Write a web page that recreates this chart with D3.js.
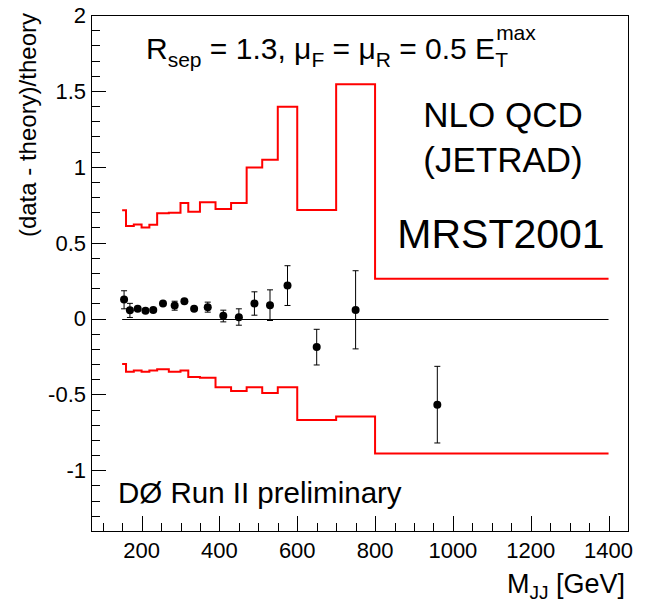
<!DOCTYPE html>
<html>
<head>
<meta charset="utf-8">
<script src="https://cdn.jsdelivr.net/npm/d3@7"></script>
<style>
  body { margin: 0; background: #fff; }
  text { font-family: "Liberation Sans", Arial, Helvetica, sans-serif; fill: #000; }
</style>
</head>
<body>
<svg id="chart" width="646" height="605"></svg>
<script>
"use strict";

// bin edges of the theory band (GeV)
var binEdges = [150, 160, 180, 200, 220, 240, 270, 300, 320, 350, 390, 430, 470, 510, 550, 600, 700, 800, 1400]
// upper / lower edge of the uncertainty band, one per bin
var upperBand = [0.713, 0.609, 0.62, 0.60, 0.618, 0.693, 0.697, 0.761, 0.704, 0.766, 0.721, 0.761, 0.995, 1.047, 1.395, 0.715, 1.543, 0.262]
var lowerBand = [-0.30, -0.35, -0.343, -0.35, -0.343, -0.334, -0.35, -0.343, -0.385, -0.39, -0.453, -0.477, -0.453, -0.49, -0.453, -0.669, -0.645, -0.889]

// data points
var massPoints = [155, 170, 190, 210, 230, 255, 285, 310, 335, 370, 410, 450, 490, 530, 575, 650, 750, 960]
var ratio = [0.125, 0.055, 0.064, 0.051, 0.057, 0.099, 0.086, 0.114, 0.064, 0.075, 0.018, 0.009, 0.099, 0.088, 0.218, -0.187, 0.057, -0.568]
var errHigh = [0.183, 0.10, 0.075, 0.06, 0.066, 0.11, 0.114, 0.122, 0.072, 0.108, 0.055, 0.064, 0.176, 0.189, 0.348, -0.071, 0.315, -0.315]
var errLow = [0.064, 0.007, 0.053, 0.042, 0.048, 0.088, 0.055, 0.106, 0.056, 0.042, -0.022, -0.044, 0.022, -0.013, 0.086, -0.306, -0.2, -0.82]

var xTickLabels = [200, 400, 600, 800, 1000, 1200, 1400]
var yTickLabels = [-1, -0.5, 0, 0.5, 1, 1.5, 2]

var frameLeft = 91, frameRight = 628, frameTop = 15, frameBottom = 531

var svg = d3.select("#chart")

var x = d3.scaleLinear().domain([70, 1450]).range([frameLeft, frameRight])
var y = d3.scaleLinear().domain([-1.4, 2]).range([frameBottom, frameTop])

// frame
svg.append("rect")
    .attr("x", frameLeft + 0.5).attr("y", frameTop + 0.5)
    .attr("width", frameRight - frameLeft).attr("height", frameBottom - frameTop)
    .attr("fill", "none").attr("stroke", "#000").attr("stroke-width", 1)

// y axis ticks
var yMinor = d3.range(-14, 21).map(function(d) { return d / 10 })
svg.append("g").selectAll("line")
    .data(yMinor)
    .enter().append("line")
    .attr("x1", frameLeft)
    .attr("x2", function(d) {
        return frameLeft + (Math.abs(d * 2 - Math.round(d * 2)) < 1e-6 ? 15 : 9)
    })
    .attr("y1", function(d) { return Math.round(y(d)) + 0.5 })
    .attr("y2", function(d) { return Math.round(y(d)) + 0.5 })
    .attr("stroke", "#000")

svg.append("g").selectAll("text")
    .data(yTickLabels)
    .enter().append("text")
    .attr("x", frameLeft - 5)
    .attr("y", function(d) { return y(d) })
    .attr("dy", "0.36em")
    .attr("text-anchor", "end")
    .attr("font-size", 22)
    .text(function(d) { return d })

// x axis ticks
var xMinor = d3.range(100, 1451, 50)
svg.append("g").selectAll("line")
    .data(xMinor)
    .enter().append("line")
    .attr("x1", function(d) { return Math.round(x(d)) + 0.5 })
    .attr("x2", function(d) { return Math.round(x(d)) + 0.5 })
    .attr("y1", frameBottom)
    .attr("y2", function(d) { return frameBottom - (d % 200 === 0 ? 15 : 8) })
    .attr("stroke", "#000")

svg.append("g").selectAll("text")
    .data(xTickLabels)
    .enter().append("text")
    .attr("x", function(d) { return x(d) })
    .attr("y", 558)
    .attr("text-anchor", "middle")
    .attr("font-size", 22)
    .text(function(d) { return d })

// axis titles
svg.append("text")
    .attr("transform", "translate(36," + 13 + ") rotate(-90)")
    .attr("text-anchor", "end")
    .attr("font-size", 24)
    .text("(data - theory)/theory")

var xt = svg.append("text")
    .attr("x", 625).attr("y", 593)
    .attr("text-anchor", "end")
    .attr("font-size", 27)
xt.append("tspan").text("M")
xt.append("tspan").attr("font-size", 19).attr("dy", 6).text("JJ")
xt.append("tspan").attr("dy", -6).text(" [GeV]")

// zero line
svg.append("line")
    .attr("x1", x(150)).attr("x2", x(1400))
    .attr("y1", Math.round(y(0)) + 0.5).attr("y2", Math.round(y(0)) + 0.5)
    .attr("stroke", "#000")

// theory band
var step = d3.line()
    .curve(d3.curveStepAfter)
    .x(function(d) { return x(d[0]) })
    .y(function(d) { return y(d[1]) })

function bandPoints(vals) {
    var p = vals.map(function(v, i) { return [binEdges[i], v] })
    p.push([binEdges[binEdges.length - 1], vals[vals.length - 1]])
    return p
}

;[upperBand, lowerBand].forEach(function(vals) {
    svg.append("path")
        .attr("d", step(bandPoints(vals)))
        .attr("fill", "none")
        .attr("stroke", "#ff0000")
        .attr("stroke-width", 2)
})

// data points with error bars
var pts = svg.append("g").selectAll("g")
    .data(massPoints)
    .enter().append("g")

pts.append("line")
    .attr("x1", function(d) { return x(d) })
    .attr("x2", function(d) { return x(d) })
    .attr("y1", function(d, i) { return y(errHigh[i]) })
    .attr("y2", function(d, i) { return y(errLow[i]) })
    .attr("stroke", "#000")

;[errHigh, errLow].forEach(function(arr) {
    pts.append("line")
        .attr("x1", function(d) { return x(d) - 3 })
        .attr("x2", function(d) { return x(d) + 3 })
        .attr("y1", function(d, i) { return y(arr[i]) })
        .attr("y2", function(d, i) { return y(arr[i]) })
        .attr("stroke", "#000")
})

pts.append("circle")
    .attr("cx", function(d) { return x(d) })
    .attr("cy", function(d, i) { return y(ratio[i]) })
    .attr("r", 4)
    .attr("fill", "#000")

// labels
var title = svg.append("text")
    .attr("x", 146).attr("y", 59)
    .attr("font-size", 30)
title.append("tspan").text("R")
title.append("tspan").attr("font-size", 21).attr("dy", 8).text("sep")
title.append("tspan").attr("dy", -8).text(" = 1.3, \u03bc")
title.append("tspan").attr("font-size", 21).attr("dy", 8).text("F")
title.append("tspan").attr("dy", -8).text(" = \u03bc")
title.append("tspan").attr("font-size", 21).attr("dy", 8).text("R")
title.append("tspan").attr("dy", -8).text(" = 0.5 E")

var ex = 146 + title.node().getComputedTextLength()
svg.append("text").attr("x", ex).attr("y", 67).attr("font-size", 21).text("T")
svg.append("text").attr("x", ex + 1).attr("y", 40).attr("font-size", 21).text("max")

svg.append("text")
    .attr("x", 503).attr("y", 127)
    .attr("text-anchor", "middle")
    .attr("font-size", 35)
    .text("NLO QCD")

svg.append("text")
    .attr("x", 503).attr("y", 172)
    .attr("text-anchor", "middle")
    .attr("font-size", 35)
    .text("(JETRAD)")

svg.append("text")
    .attr("x", 501).attr("y", 248)
    .attr("text-anchor", "middle")
    .attr("font-size", 41)
    .text("MRST2001")

svg.append("text")
    .attr("x", 118).attr("y", 503)
    .attr("font-size", 29.5)
    .text("D\u00d8 Run II preliminary")
</script>
</body>
</html>
